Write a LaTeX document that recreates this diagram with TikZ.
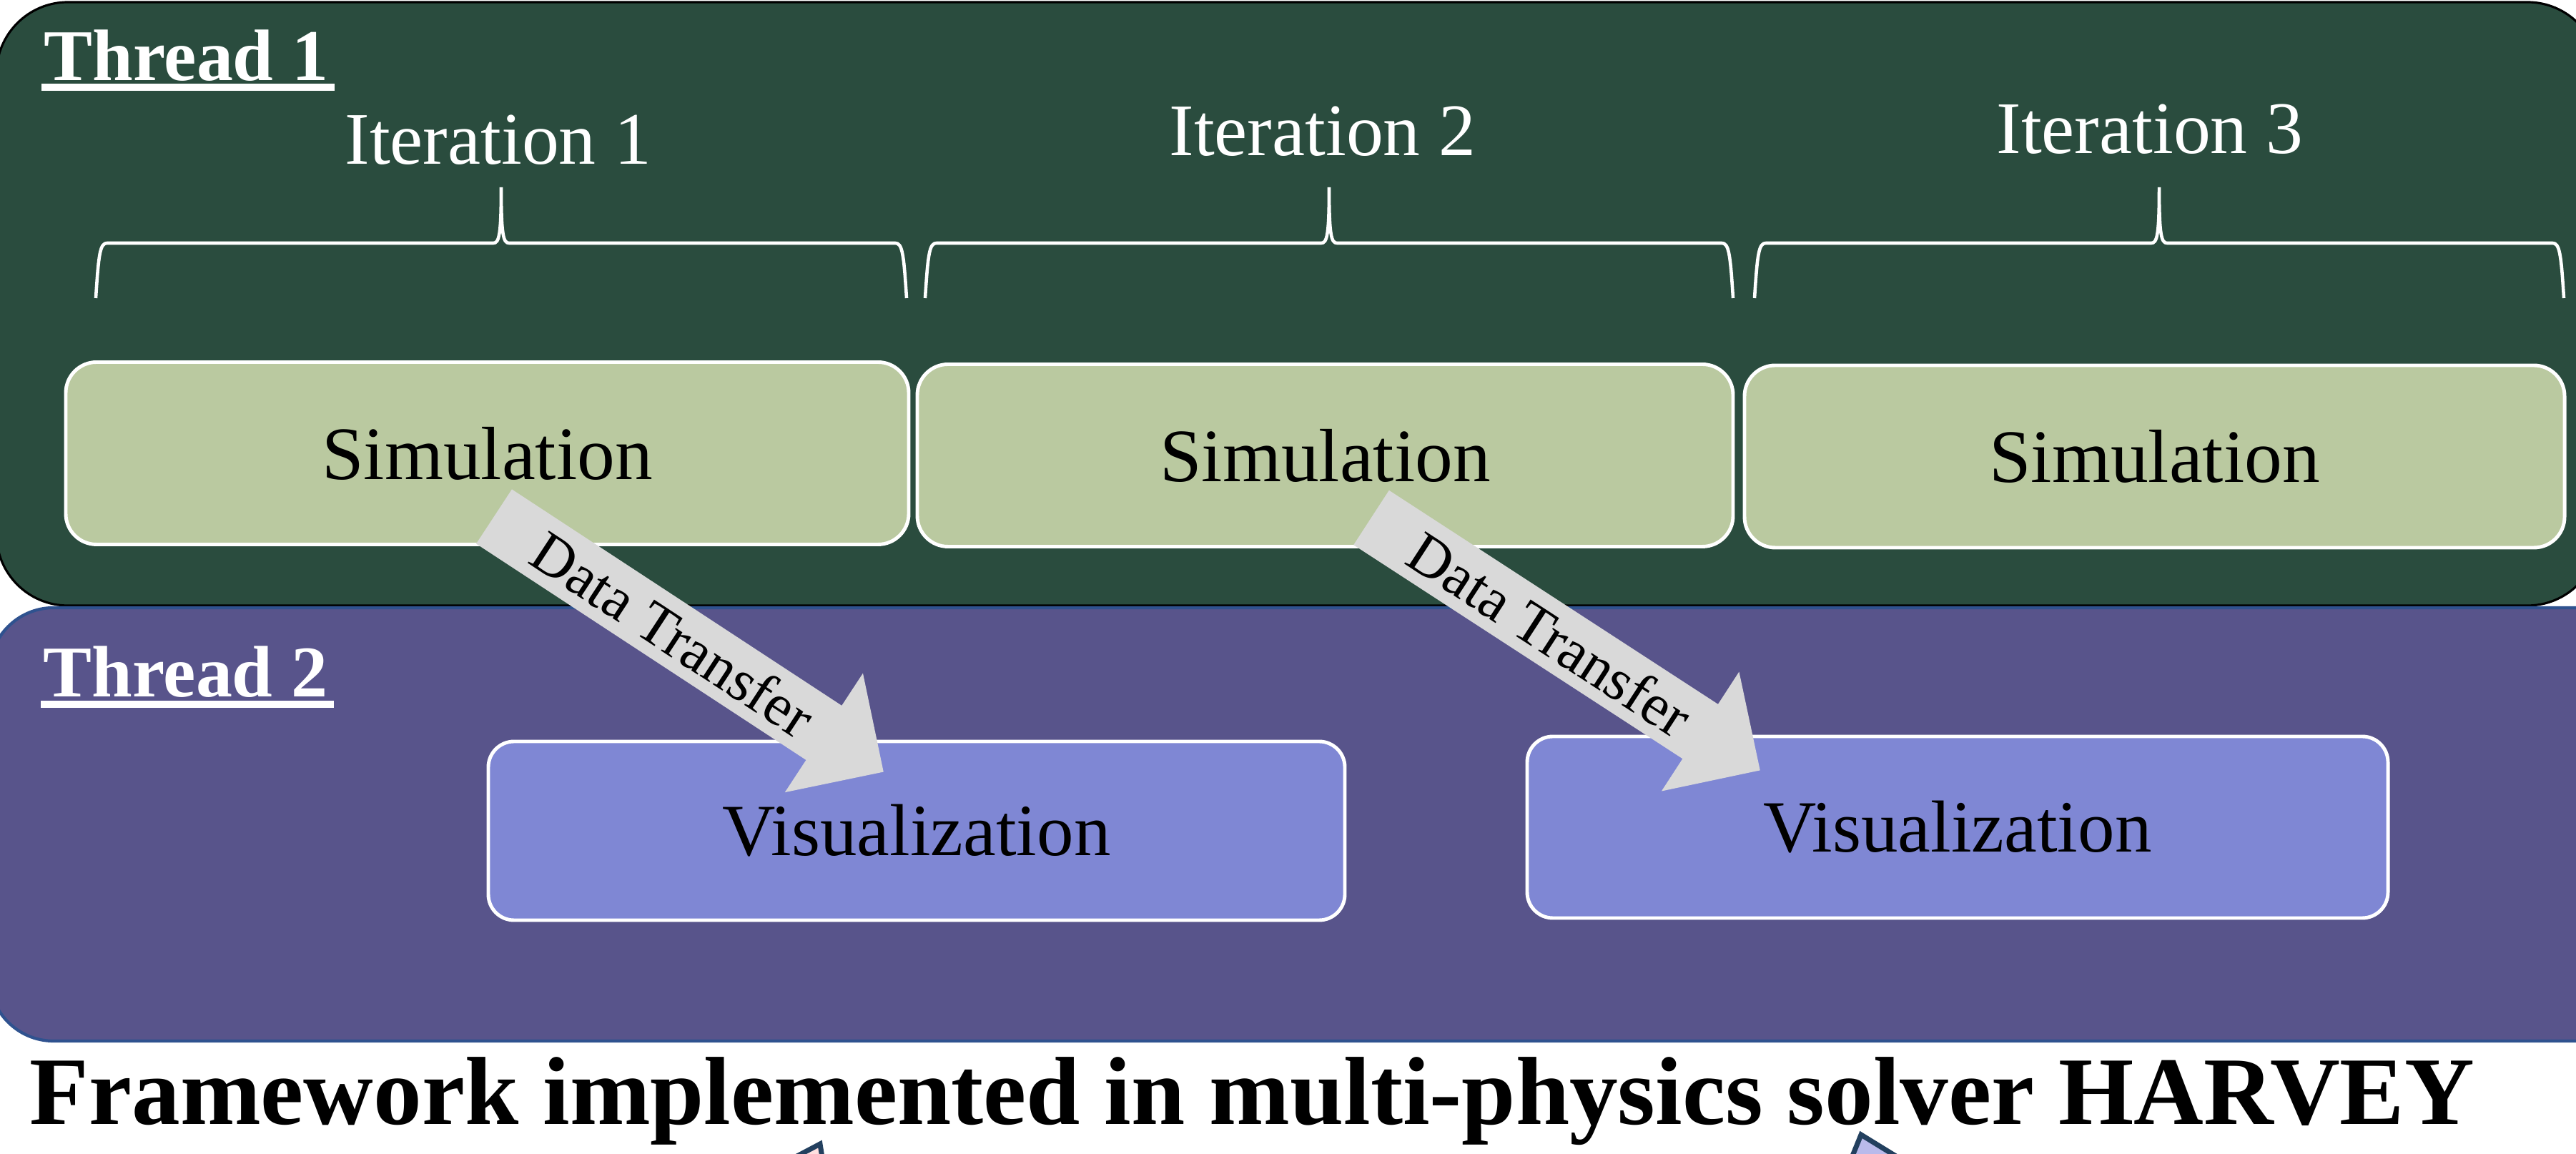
\documentclass[tikz,border=0pt]{standalone}
\usepackage{fontspec}
\setmainfont{Liberation Serif}
\usepackage{tikz}
\usetikzlibrary{arrows.meta,calc}
\definecolor{threadgreen}{HTML}{2A4C3E}
\definecolor{threadpurple}{HTML}{58548B}
\definecolor{threadedge}{HTML}{2F528F}
\definecolor{simgreen}{HTML}{BAC9A0}
\definecolor{visblue}{HTML}{7F87D4}
\definecolor{transfergray}{HTML}{D9D9D9}
\definecolor{iconnavy}{HTML}{23405F}

\begin{document}
\begin{tikzpicture}[
  iterlabel/.style={text=white, inner sep=0pt, anchor=base, font=\fontsize{29.5}{35}\selectfont},
  threadlabel/.style={text=white, inner sep=0pt, anchor=base west, font=\bfseries\fontsize{29}{35}\selectfont},
  simbox/.style={draw=white, line width=1.4pt, fill=simgreen, rounded corners=0.43cm, minimum height=2.55cm, font=\fontsize{30}{36}\selectfont},
  visbox/.style={draw=white, line width=1.4pt, fill=visblue, rounded corners=0.36cm, font=\fontsize{29.3}{35}\selectfont},
  bracket/.style={draw=white, line width=1.3pt},
  transfer/.style={draw=transfergray, line width=0.91cm, -{Triangle[length=1cm,width=1.93cm]}}
]
  \useasboundingbox (0,0) rectangle (36.03,16.14);

  \draw[fill=threadgreen, draw=black, line width=0.9pt, rounded corners=1cm] (-0.05,7.67) rectangle (36.35,16.11);
  \draw[fill=threadpurple, draw=threadedge, line width=1.2pt, rounded corners=0.9cm] (-0.15,1.58) rectangle (37,7.64);

  \node[threadlabel] (thr1) at (0.61,15.01) {Thread 1};
  \draw[white, line width=0.1cm] ([shift={(-0.03,-0.09)}]thr1.base west) -- ([shift={(0.08,-0.09)}]thr1.base east);
  \node[threadlabel] (thr2) at (0.60,6.39) {Thread 2};
  \draw[white, line width=0.1cm] ([shift={(-0.03,-0.1)}]thr2.base west) -- ([shift={(0.08,-0.1)}]thr2.base east);

  \node[iterlabel] (it1) at (6.97,13.84) {Iteration 1};
  \node[iterlabel] (it2) at (18.50,13.96) {Iteration 2};
  \node[iterlabel] (it3) at (30.07,13.99) {Iteration 3};

  \foreach \xl/\xr in {1.34/12.68, 12.94/24.24, 24.54/35.86} {
    \pgfmathsetmacro\xm{(\xl+\xr)/2}
    \draw[bracket] (\xl,11.97) .. controls ({\xl+0.04},12.6) and ({\xl+0.06},12.74) .. ({\xl+0.16},12.74)
      -- ({\xm-0.11},12.74) .. controls ({\xm-0.03},12.74) and (\xm,12.85) .. (\xm,13.52)
      .. controls (\xm,12.85) and ({\xm+0.03},12.74) .. ({\xm+0.11},12.74)
      -- ({\xr-0.16},12.74) .. controls ({\xr-0.06},12.74) and ({\xr-0.04},12.6) .. (\xr,11.97);
  }

  \node[simbox, minimum width=11.79cm] (sim1) at (6.815,9.80) {Simulation};
  \node[simbox, minimum width=11.41cm] (sim2) at (18.535,9.77) {Simulation};
  \node[simbox, minimum width=11.47cm] (sim3) at (30.135,9.755) {Simulation};

  \node[visbox, minimum width=11.98cm, minimum height=2.50cm] (vis1) at (12.82,4.52) {Visualization};
  \node[visbox, minimum width=12.04cm, minimum height=2.54cm] (vis2) at (27.38,4.57) {Visualization};

  \coordinate (dt1a) at ([shift={(0.095,0.415)}]sim1.south);
  \coordinate (dt1b) at ([shift={(-0.46,-0.452)}]vis1.north);
  \coordinate (dt2a) at ([shift={(0.645,0.43)}]sim2.south);
  \coordinate (dt2b) at ([shift={(-2.76,-0.50)}]vis2.north);
  \draw[transfer] (dt1a) -- node[sloped, pos=0.46, font=\fontsize{23.5}{28}\selectfont] (dt1) {Data Transfer} (dt1b);
  \draw[transfer] (dt2a) -- node[sloped, pos=0.46, font=\fontsize{23.5}{28}\selectfont] (dt2) {Data Transfer} (dt2b);

  \node[anchor=base west, inner sep=0pt, font=\bfseries\fontsize{38.5}{46}\selectfont] (title) at (0.41,0.41) {Framework implemented in multi-physics solver HARVEY};

  \filldraw[draw=iconnavy, fill=white!88!red, line width=2pt] (11.11,-0.05) -- (11.47,0.14) -- (11.50,-0.05) -- cycle;
  \filldraw[draw=iconnavy, fill=gray!45!blue!35, line width=2pt] (25.90,-0.05) -- (26.03,0.27) -- (26.55,-0.05) -- cycle;
\end{tikzpicture}
\end{document}
